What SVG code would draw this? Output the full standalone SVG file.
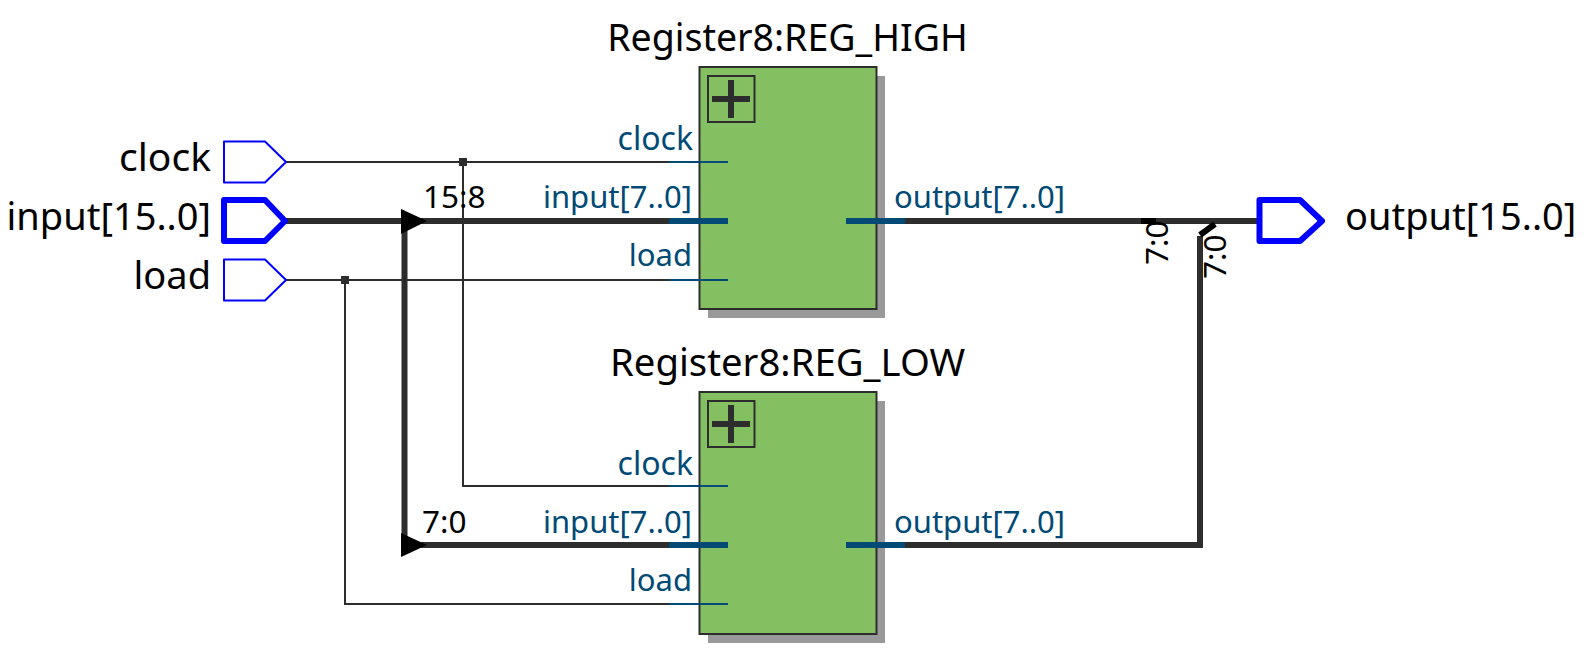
<svg xmlns="http://www.w3.org/2000/svg" width="1589" height="654" viewBox="0 0 1589 654">
<style>
text{font-family:"Noto Sans","Open Sans",sans-serif;}
.t{font-size:37.500px;fill:#000}
.l{font-size:38px;fill:#000}
.p{font-size:31px;fill:#004a75}
.s{font-size:31.500px;fill:#000}
.w{fill:none;stroke:#2d2d2d;stroke-width:2}
.b{fill:none;stroke:#2d2d2d;stroke-width:6}
.pin{stroke:#004a75;stroke-width:2;fill:none}
.pinb{stroke:#004a75;stroke-width:6;fill:none}
.box{fill:#84c062;stroke:#2d2d2d;stroke-width:2}
.sh{fill:#999}
.pl{fill:#84c062;stroke:#2d2d2d;stroke-width:2}
.cr{fill:#2d2d2d}
.i{fill:#fff;stroke:#0000ff;stroke-width:2;stroke-linejoin:round}
.ib{fill:#fff;stroke:#0000ff;stroke-width:6;stroke-linejoin:round}
</style>
<g id="connectors">
<path class="w" d="M286 162H669M463 162V486H669"/>
<path class="w" d="M286 280H669M345 280V604H669"/>
<path class="b" d="M286 221H669M404.500 221V545M404.500 545H669"/>
<path class="b" d="M905 221H1257M905 545H1200V236"/>
<rect class="cr" x="459" y="158" width="8" height="8"/>
<rect class="cr" x="341" y="276" width="8" height="8"/>
<path d="M401 209L427 221L401 234Z" fill="#000"/>
<path d="M401 533L427 545L401 557Z" fill="#000"/>
<rect x="1141" y="218" width="15" height="6" fill="#000"/>
<path d="M1200 235L1215 224" fill="none" stroke="#000" stroke-width="6"/>
<text class="s" x="423" y="208">15:8</text>
<text class="s" x="422" y="533">7:0</text>
<text class="s" transform="translate(1168 265) rotate(-90)">7:0</text>
<text class="s" transform="translate(1226 279) rotate(-90)">7:0</text>
</g>
<g id="clock"><path class="i" d="M224 141.500H265L286 162L265 182.500H224Z"/><text class="l" x="211" y="171" text-anchor="end" style="font-size:39px">clock</text></g>
<g id="input"><path class="ib" d="M224 200H265L285 221L265 241H224Z"/><text class="l" x="211" y="230" text-anchor="end">input[15..0]</text></g>
<g id="load"><path class="i" d="M224 259.500H265L286 280L265 300.500H224Z"/><text class="l" x="211" y="289" text-anchor="end">load</text></g>
<g id="output"><path class="ib" d="M1259.500 200H1300L1322 221L1300 241H1259.500Z"/><text class="l" x="1345" y="230">output[15..0]</text></g>
<g id="reg_high">
<rect class="sh" x="708" y="76" width="177" height="242"/>
<rect class="box" x="699.500" y="67" width="177" height="242"/>
<rect class="pl" x="708" y="76" width="46.500" height="46"/>
<path class="cr" d="M712 96H750V102H712ZM728 80H734V118H728Z"/>
<path class="pin" d="M669 162H728M669 280H728"/>
<path class="pinb" d="M669 221H728M846 221H905"/>
<text class="t" x="787.500" y="51" text-anchor="middle">Register8:REG_HIGH</text>
<text class="p" x="693" y="150" text-anchor="end" style="font-size:32px">clock</text>
<text class="p" x="692" y="208" text-anchor="end">input[7..0]</text>
<text class="p" x="692" y="266" text-anchor="end">load</text>
<text class="p" x="894" y="208">output[7..0]</text>
</g>
<g id="reg_low">
<rect class="sh" x="708" y="401" width="177" height="242"/>
<rect class="box" x="699.500" y="392" width="177" height="242"/>
<rect class="pl" x="708" y="401" width="46.500" height="46"/>
<path class="cr" d="M712 421H750V427H712ZM728 405H734V443H728Z"/>
<path class="pin" d="M669 486H728M669 604H728"/>
<path class="pinb" d="M669 545H728M846 545H905"/>
<text class="t" x="787.500" y="376" text-anchor="middle" style="font-size:38.300px">Register8:REG_LOW</text>
<text class="p" x="693" y="475" text-anchor="end" style="font-size:32px">clock</text>
<text class="p" x="692" y="533" text-anchor="end">input[7..0]</text>
<text class="p" x="692" y="591" text-anchor="end">load</text>
<text class="p" x="894" y="533">output[7..0]</text>
</g>
</svg>
